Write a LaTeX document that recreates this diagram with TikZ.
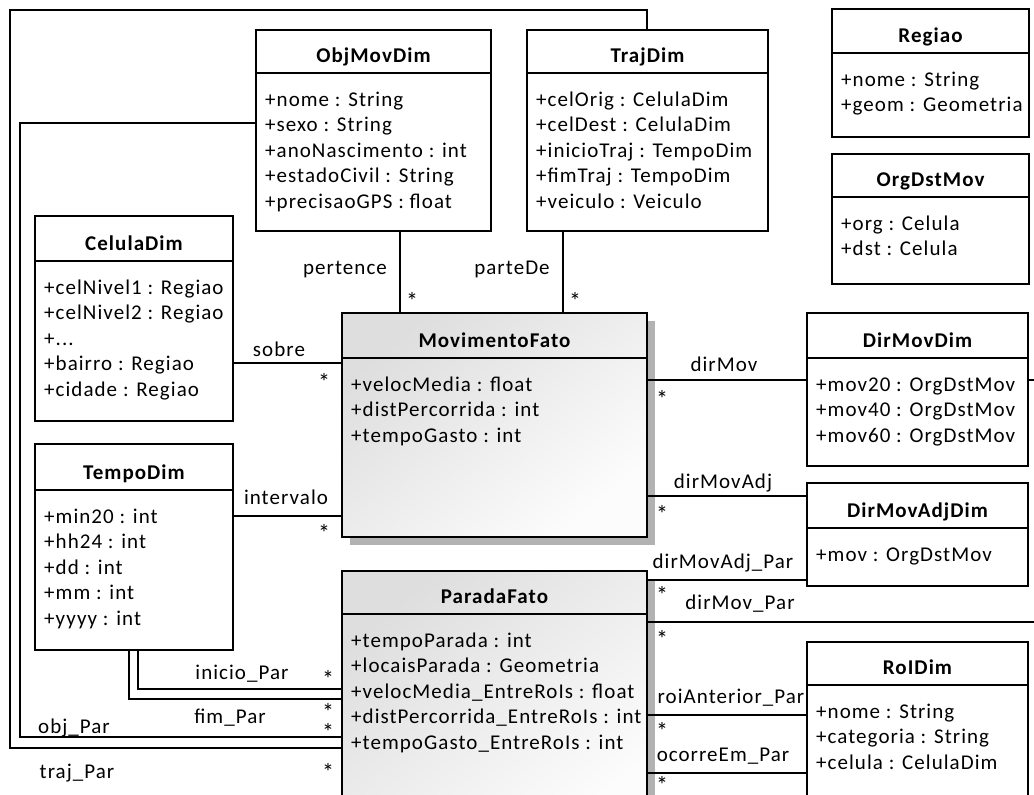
\documentclass[tikz,border=0pt]{standalone}
\usepackage{fontspec}
\setmainfont{Carlito}[LetterSpace=5]
\usetikzlibrary{shadows}

% A UML class: [extra style]{name}{x1}{y1}{x2}{y2}{header line y}{title}{attributes}
\newcommand\umlclass[9][]{%
  \node[classbox,#1,minimum width={#5-#3},minimum height={#6-#4}]
    (#2) at ({(#3+#5)/2},{(#4+#6)/2}) {};
  \draw[link] (#2.west |- 0,#7) -- (#2.east |- 0,#7);
  \node[txt,font=\umlfont\bfseries] (#2-title) at ({(#3+#5)/2},{#7-11}) {#8};
  \foreach \a [count=\i] in {#9}
    \node[txt,anchor=base west] (#2-a\i) at ({#3+9},{#7+33+25.5*(\i-1)}) {\a};
}
\newcommand\umlfont{\fontsize{21}{25.5}\selectfont}

\begin{document}
\begin{tikzpicture}[x=1pt,y=-1pt,
  link/.style={line width=2.8pt},
  classbox/.style={draw,line width=2.8pt,inner sep=0pt,outer sep=0pt,fill=white},
  factbox/.style={top color=black!13,bottom color=black!1,shading angle=40,
    general shadow={fill=black!30,shadow xshift=8pt,shadow yshift=-8pt}},
  txt/.style={inner sep=0pt,font=\umlfont,anchor=base},
  lbl/.style={txt},
  mult/.style={txt,font=\fontsize{24}{24}\selectfont}]
\useasboundingbox (0,0) rectangle (1034,795);
\clip (0,0) rectangle (1034,795);

% bends of the long associations
\coordinate (trajTop) at (647,10);
\coordinate (objCorner) at (20,123);
\coordinate (edgeR) at (1046,380);

% classes
\umlclass{objmov}{256}{30}{491}{231}{73}{ObjMovDim}
  {+nome : String,+sexo : String,+anoNascimento : int,+estadoCivil : String,+precisaoGPS : float}
\umlclass{traj}{527}{30}{768}{231}{73}{TrajDim}
  {+celOrig : CelulaDim,+celDest : CelulaDim,+inicioTraj : TempoDim,+fimTraj : TempoDim,+veiculo : Veiculo}
\umlclass{regiao}{832}{9}{1029}{137}{53}{Regiao}
  {+nome : String,+geom : Geometria}
\umlclass{orgdst}{832}{154}{1029}{284}{197}{OrgDstMov}
  {+org : Celula,+dst : Celula}
\umlclass{celula}{35}{216}{233}{421}{261}{CelulaDim}
  {+celNivel1 : Regiao,+celNivel2 : Regiao,+.{}.{}.,+bairro : Regiao,+cidade : Regiao}
\umlclass{tempo}{35}{444}{233}{650}{490}{TempoDim}
  {+min20 : int,+hh24 : int,+dd : int,+mm : int,+yyyy : int}
\umlclass{dirmov}{807}{313}{1028}{466}{358}{DirMovDim}
  {+mov20 : OrgDstMov,+mov40 : OrgDstMov,+mov60 : OrgDstMov}
\umlclass{dirmovadj}{807}{483}{1028}{586}{528}{DirMovAdjDim}
  {+mov : OrgDstMov}
\umlclass{roi}{807}{642}{1028}{840}{685}{RoIDim}
  {+nome : String,+categoria : String,+celula : CelulaDim}

% fact tables
\umlclass[factbox]{movfato}{342}{313}{647}{537}{358}{MovimentoFato}
  {+velocMedia : float,+distPercorrida : int,+tempoGasto : int}
\umlclass[factbox]{parada}{342}{571}{647}{840}{614}{ParadaFato}
  {+tempoParada : int,+locaisParada : Geometria,+velocMedia\_EntreRoIs : float,+distPercorrida\_EntreRoIs : int,+tempoGasto\_EntreRoIs : int}

% connectors
\draw[link] (objmov.south -| 400,0) -- (movfato.north -| 400,0);
\draw[link] (traj.south -| 563,0) -- (movfato.north -| 563,0);
\draw[link] (celula.east |- 0,363) -- (movfato.west |- 0,363);
\draw[link] (tempo.east |- 0,516) -- (movfato.west |- 0,516);
\draw[link] (tempo.south -| 138,0) |- (parada.west |- 0,689);
\draw[link] (tempo.south -| 129,0) |- (parada.west |- 0,699);
\draw[link] (parada.west |- 0,737) -| (objCorner) -- (objmov.west |- objCorner);
\draw[link] (parada.west |- 0,748) -| (10,10) -- (trajTop) -- (traj.north -| trajTop);
\draw[link] (movfato.east |- 0,380) -- (dirmov.west |- 0,380);
\draw[link] (movfato.east |- 0,496) -- (dirmovadj.west |- 0,496);
\draw[link] (parada.east |- 0,580) -- (dirmovadj.west |- 0,580);
\draw[link] (parada.east |- 0,622) -| (edgeR) -- (dirmov.east |- edgeR);
\draw[link] (parada.east |- 0,715) -- (roi.west |- 0,715);
\draw[link] (parada.east |- 0,773) -- (roi.west |- 0,773);

% association names
\node[lbl] (l-pertence) at (345,274) {pertence};
\node[lbl] (l-partede) at (512,274) {parteDe};
\node[lbl] (l-sobre) at (279,356) {sobre};
\node[lbl] (l-intervalo) at (286,504) {intervalo};
\node[lbl] (l-inicio) at (242,679) {inicio\_Par};
\node[lbl] (l-fim) at (230,723) {fim\_Par};
\node[lbl] (l-obj) at (74,733) {obj\_Par};
\node[lbl] (l-traj) at (77,778) {traj\_Par};
\node[lbl] (l-dirmov) at (724,371) {dirMov};
\node[lbl] (l-dirmovadj) at (723,488) {dirMovAdj};
\node[lbl] (l-dirmovadjpar) at (723,568) {dirMovAdj\_Par};
\node[lbl] (l-dirmovpar) at (740,609) {dirMov\_Par};
\node[lbl] (l-roiant) at (731,703) {roiAnterior\_Par};
\node[lbl] (l-ocorre) at (723,761) {ocorreEm\_Par};

% multiplicities
\node[mult] (m1) at (412,309) {*};
\node[mult] (m2) at (575,309) {*};
\node[mult] (m3) at (324,390) {*};
\node[mult] (m4) at (324,541) {*};
\node[mult] (m5) at (328,687) {*};
\node[mult] (m6) at (328,720) {*};
\node[mult] (m7) at (328,740) {*};
\node[mult] (m8) at (328,780) {*};
\node[mult] (m9) at (662,407) {*};
\node[mult] (m10) at (662,522) {*};
\node[mult] (m11) at (662,603) {*};
\node[mult] (m12) at (662,647) {*};
\node[mult] (m13) at (662,739) {*};
\node[mult] (m14) at (662,793) {*};
\end{tikzpicture}
\end{document}
